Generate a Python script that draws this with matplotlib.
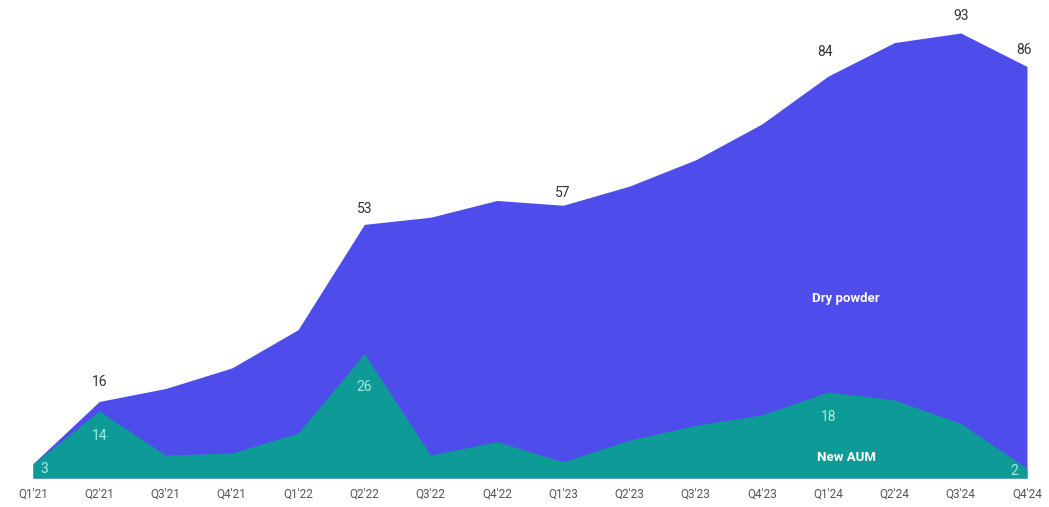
import matplotlib
matplotlib.use("Agg")
import matplotlib.pyplot as plt
import numpy as np

plt.rcParams['font.family'] = ['Roboto', 'DejaVu Sans']

# Quarterly figures ($B)
quarters = ["Q1'21", "Q2'21", "Q3'21", "Q4'21", "Q1'22", "Q2'22", "Q3'22", "Q4'22",
            "Q1'23", "Q2'23", "Q3'23", "Q4'23", "Q1'24", "Q2'24", "Q3'24", "Q4'24"]
dry_powder = [3, 16, 18.7, 23, 31, 53, 54.5, 58, 57, 61, 66.5, 74, 84, 91, 93, 86]
new_aum = [3, 14, 4.8, 5.2, 9.4, 26, 4.8, 7.6, 3.4, 7.9, 11, 13.2, 18, 16.3, 11.4, 2]

# which points get a value label, with offsets in points
top_labels = {1: (0, 14), 5: (0, 11), 8: (0, 9), 12: (-2, 17), 14: (0, 12), 15: (-2, 12)}
aum_labels = {0: (8, -4), 1: (0, -18), 5: (0, -24), 12: (0, -18), 15: (-9, -2)}

blue = '#4f4cec'
teal = '#0e9a97'

fig = plt.figure(figsize=(10.49, 5.07), dpi=100)
ax = fig.add_axes([33 / 1049, 29 / 507, 994 / 1049, 478.5 / 507])

x = np.arange(len(quarters))
ax.fill_between(x, 0, dry_powder, color=blue, lw=0)
ax.fill_between(x, 0, new_aum, color=teal, lw=0)

for i, (dx, dy) in top_labels.items():
    ax.annotate(f"{dry_powder[i]:g}", (x[i], dry_powder[i]), xytext=(dx, dy),
                textcoords='offset points', ha='center', va='center',
                fontsize=10, color='#333333')

for i, (dx, dy) in aum_labels.items():
    ax.annotate(f"{new_aum[i]:g}", (x[i], new_aum[i]), xytext=(dx, dy),
                textcoords='offset points', ha='center', va='center',
                fontsize=10, color='#a8ece6')

ax.text(12.27, 37.5, "Dry powder", color='white', fontsize=9.5, fontweight='bold',
        ha='center', va='center')
ax.text(12.27, 4.2, "New AUM", color='white', fontsize=9.5, fontweight='bold',
        ha='center', va='center')

ax.set_xlim(0, len(quarters) - 1)
ax.set_ylim(0, 100)
ax.set_xticks(x)
ax.set_xticklabels(quarters, fontsize=8.5, color='#555555')
ax.tick_params(axis='x', length=0, pad=7)
ax.set_yticks([])
for s in ax.spines.values():
    s.set_visible(False)

fig.savefig('out.png', dpi=100)
